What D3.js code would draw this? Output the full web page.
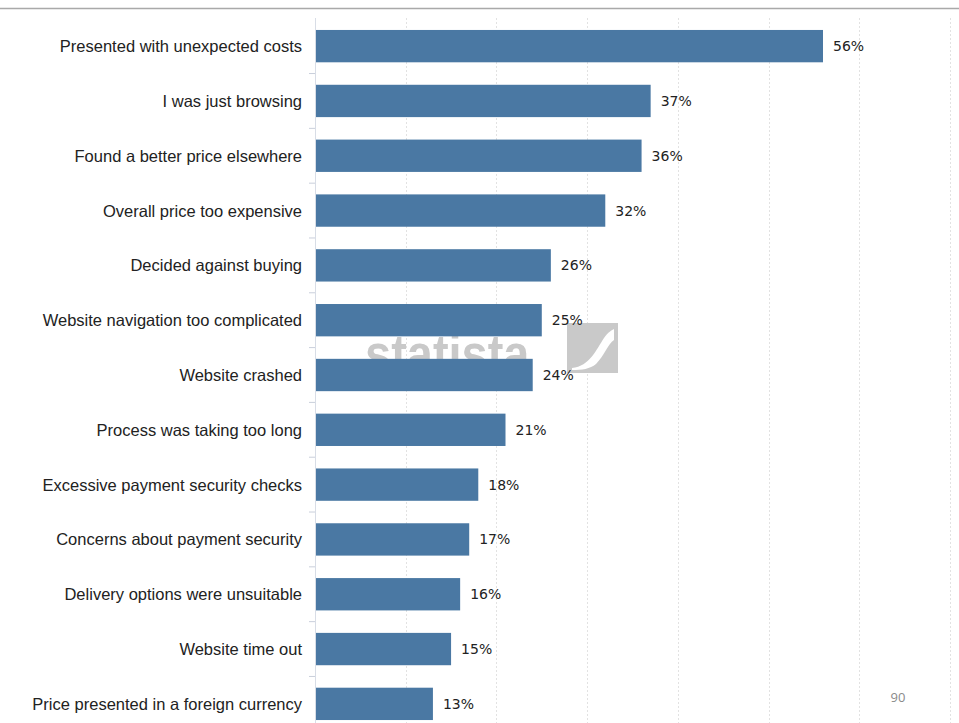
<!DOCTYPE html>
<html>
<head>
<meta charset="utf-8">
<script src="https://cdn.jsdelivr.net/npm/d3@7"></script>
<style>
  html, body { margin: 0; padding: 0; background: #fff; }
  svg { display: block; }
</style>
</head>
<body>
<svg id="chart" width="959" height="723"></svg>
<script>
// Reasons for abandoning an online purchase (share of respondents)
const categories = [
  "Presented with unexpected costs",
  "I was just browsing",
  "Found a better price elsewhere",
  "Overall price too expensive",
  "Decided against buying",
  "Website navigation too complicated",
  "Website crashed",
  "Process was taking too long",
  "Excessive payment security checks",
  "Concerns about payment security",
  "Delivery options were unsuitable",
  "Website time out",
  "Price presented in a foreign currency"
];
const values = [56, 37, 36, 32, 26, 25, 24, 21, 18, 17, 16, 15, 13];
const gridTicks = [10, 20, 30, 40, 50, 60, 70];
const pageNumber = "90";
const watermark = "statista";

const svg = d3.select("#chart");
const W = 959, H = 723;

// Plot area
const x0 = 315, x1 = 950;
const yTop = 19, yBottom = 731;

const x = d3.scaleLinear().domain([0, 70]).range([x0, x1]);
const y = d3.scaleBand().domain(categories).range([yTop, yBottom]).paddingInner(0.41).paddingOuter(0.2);

// Top rule across the page
svg.append("line")
  .attr("x1", 0).attr("x2", W).attr("y1", 8.5).attr("y2", 8.5)
  .attr("stroke", "#a9a9a9").attr("stroke-width", 1.5);

// Vertical dotted gridlines
svg.append("g")
  .selectAll("line")
  .data(gridTicks)
  .join("line")
  .attr("x1", d => Math.round(x(d)) + 0.5)
  .attr("x2", d => Math.round(x(d)) + 0.5)
  .attr("y1", 18).attr("y2", H)
  .attr("stroke", "#e2e2e2")
  .attr("stroke-width", 1)
  .attr("stroke-dasharray", "2,2");

// Watermark behind the bars (stretched vertically about its baseline)
const wm = svg.append("g").attr("fill", "#c9c9c9");
wm.append("text")
  .attr("transform", "translate(365,372) scale(1,1.14)")
  .attr("font-family", "Liberation Sans, Arial, sans-serif")
  .attr("font-weight", "bold")
  .attr("font-size", 47)
  .text(watermark);
wm.append("rect").attr("x", 567).attr("y", 323).attr("width", 51).attr("height", 50);
wm.append("path")
  .attr("d", "M572 368 C590 366 596 350 604 338 C608 332 612 330 614 329 L614 340 C608 344 604 356 596 364 C590 369 582 370 572 370 Z")
  .attr("fill", "#ffffff");

// Left axis with ticks at band boundaries
const step = y.step();
const boundaries = categories.slice(0, -1).map(c => y(c) + y.bandwidth() + (step - y.bandwidth()) / 2);
svg.append("line")
  .attr("x1", x0 + 0.5).attr("x2", x0 + 0.5)
  .attr("y1", 18).attr("y2", H)
  .attr("stroke", "#d8dde6").attr("stroke-width", 1);
svg.append("g")
  .selectAll("line")
  .data(boundaries)
  .join("line")
  .attr("x1", x0 - 6).attr("x2", x0)
  .attr("y1", d => d).attr("y2", d => d)
  .attr("stroke", "#c9cfdb");

// Bars
svg.append("g")
  .selectAll("rect")
  .data(values)
  .join("rect")
  .attr("x", x(0) + 1)
  .attr("y", (d, i) => y(categories[i]))
  .attr("width", d => x(d) - x(0) - 1)
  .attr("height", y.bandwidth())
  .attr("fill", "#4a78a3");

// Category labels
svg.append("g")
  .selectAll("text")
  .data(categories)
  .join("text")
  .attr("x", 302)
  .attr("y", d => y(d) + y.bandwidth() / 2)
  .attr("dy", "0.36em")
  .attr("text-anchor", "end")
  .attr("font-family", "Liberation Sans, Arial, sans-serif")
  .attr("font-size", 16.5)
  .attr("fill", "#222")
  .text(d => d);

// Value labels
svg.append("g")
  .selectAll("text")
  .data(values)
  .join("text")
  .attr("x", d => x(d) + 10)
  .attr("y", (d, i) => y(categories[i]) + y.bandwidth() / 2)
  .attr("dy", "0.36em")
  .attr("font-family", "DejaVu Sans, sans-serif")
  .attr("font-size", 14)
  .attr("fill", "#222")
  .text(d => d + "%");

// Page number
svg.append("text")
  .attr("x", 898).attr("y", 702)
  .attr("text-anchor", "middle")
  .attr("font-family", "Open Sans, sans-serif")
  .attr("font-size", 13)
  .attr("fill", "#8a8a8a")
  .text(pageNumber);
</script>
</body>
</html>
